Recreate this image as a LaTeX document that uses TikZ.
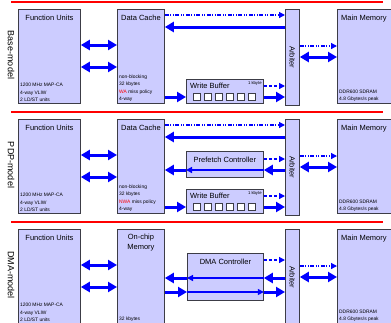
\documentclass[tikz,border=0pt]{standalone}
\usepackage{fontspec}
\setmainfont{Liberation Sans}
\usetikzlibrary{arrows.meta,positioning}
\definecolor{boxfill}{RGB}{204,204,255}
\definecolor{boxline}{RGB}{60,60,70}
\begin{document}
\begin{tikzpicture}[x=1pt,y=-1pt,
  unit/.style={draw=boxline,fill=boxfill,line width=.8pt,anchor=north west,inner sep=0pt},
  ttl/.style={font=\fontsize{7.5}{10}\selectfont,anchor=base,inner sep=1pt},
  spec/.style={font=\fontsize{4.9}{7.3}\selectfont,align=left,anchor=south west,inner sep=2pt},
  side/.style={font=\fontsize{9}{10}\selectfont,rotate=-90},
  big/.style={blue,line width=3pt,-{Triangle[length=9pt,width=10pt]}},
  bigboth/.style={blue,line width=3pt,{Triangle[length=9pt,width=10pt]}-{Triangle[length=9pt,width=10pt]}},
  fine/.style={blue,line width=1.3pt,-{Triangle[length=6pt,width=6pt]}},
  req/.style={fine,dash pattern=on 3pt off 2pt},
  addr/.style={fine,dash pattern=on 4pt off 1.5pt on 1pt off 1.5pt on 1pt off 1.5pt},
  sq/.style={draw=boxline,fill=white,line width=.7pt,minimum size=7.5pt,inner sep=0pt}]
\clip (0,0) rectangle (391,322);
% parts every model has
\foreach \s/\t/\lab in {1/9/Base-model,2/119/PDP-model,3/229/DMA-model}{
  \draw[red,line width=2pt] (11,\t-7)--(383,\t-7);
  \node[unit,minimum width=62pt,minimum height=94pt] (fu\s) at (18,\t) {};
  \node[unit,minimum width=47pt,minimum height=94pt] (mem\s) at (117,\t) {};
  \node[unit,minimum width=14pt,minimum height=96pt] (arb\s) at (285,\t) {};
  \node[unit,minimum width=80pt,minimum height=94pt] (mm\s) at (337,\t) {};
  \node[side] (lab\s) at ([xshift=-7pt,yshift=-46pt]fu\s.north west) {\lab};
  \node[ttl] (fut\s) at ([yshift=-11pt]fu\s.north) {Function Units};
  \node[spec] (fus\s) at (fu\s.south west) {1200 MHz MAP-CA\\4-way VLIW\\2 LD/ST units};
  \node[font=\fontsize{7.5}{8}\selectfont,rotate=-90] (arbt\s) at (arb\s) {Arbiter};
  \node[ttl,anchor=base west] (mmt\s) at ([xshift=3pt,yshift=-11pt]mm\s.north west) {Main Memory};
  \node[spec] (mms\s) at (mm\s.south west) {DDR600 SDRAM\\4.8 Gbytes/s peak};
  \draw[bigboth] ([yshift=-36pt]fu\s.north east) -- ([yshift=-36pt]mem\s.north west);
  \draw[bigboth] ([yshift=-58pt]fu\s.north east) -- ([yshift=-58pt]mem\s.north west);
  \draw[addr] ([yshift=-37pt]arb\s.north east) -- ([yshift=-37pt]mm\s.north west);
  \draw[bigboth] ([yshift=-48pt]arb\s.north east) -- ([yshift=-48pt]mm\s.north west);
}
% data cache and write buffer
\foreach \s/\t/\pol in {1/9/WA,2/119/NWA}{
  \node[ttl] (memt\s) at ([yshift=-11pt]mem\s.north) {Data Cache};
  \node[spec] (mems\s) at (mem\s.south west) {non-blocking\\32 kbytes\\\textcolor{red}{\pol} miss policy\\4-way};
  \draw[addr] ([yshift=-6pt]mem\s.north east) -- ([yshift=-6pt]arb\s.north west);
  \draw[big] ([yshift=-18pt]arb\s.north west) -- ([yshift=-18pt]mem\s.north east);
  \node[unit,minimum width=77pt,minimum height=24pt] (wb\s) at (186,\t+70) {};
  \node[ttl,anchor=base west] (wbt\s) at ([xshift=3pt,yshift=-9pt]wb\s.north west) {Write Buffer};
  \node[spec,anchor=north east,font=\fontsize{4.2}{5}\selectfont] (wbk\s) at (wb\s.north east) {1 kbyte};
  \foreach \i in {1,...,6} \node[sq] (wbq\s\i) at ([xshift=\i*11pt,yshift=7pt]wb\s.south west) {};
  \draw[big] ([yshift=-88pt]mem\s.north east) -- ([yshift=-18pt]wb\s.north west);
  \draw[req] ([yshift=-7pt]wb\s.north east) -- ([yshift=-77pt]arb\s.north west);
  \draw[big] ([yshift=-18pt]wb\s.north east) -- ([yshift=-88pt]arb\s.north west);
}
% prefetch controller
\node[unit,minimum width=77pt,minimum height=26pt] (pf2) at (186,151) {};
\node[ttl] (pft2) at ([yshift=-11pt]pf2.north) {Prefetch Controller};
\draw[req] ([yshift=-8pt]pf2.north east) -- ([yshift=-40pt]arb2.north west);
\draw[big] ([yshift=-51pt]arb2.north west) -- ([yshift=-19pt]pf2.north east);
\draw[fine] ([yshift=-19pt]pf2.north east) -- ([yshift=-19pt]pf2.north west);
\draw[big] ([yshift=-19pt]pf2.north west) -- ([yshift=-51pt]mem2.north east);
% on-chip memory and dma
\node[ttl,anchor=north,align=center] (memt3) at ([yshift=-4pt]mem3.north) {On-chip\\Memory};
\node[spec,anchor=base west] (mems3) at ([yshift=-91pt]mem3.north west) {32 kbytes};
\node[unit,minimum width=76pt,minimum height=47pt] (dma3) at (187,253) {};
\node[ttl] (dmat3) at ([yshift=-11pt]dma3.north) {DMA Controller};
\draw[req] ([yshift=-7pt]dma3.north east) -- ([yshift=-31pt]arb3.north west);
\draw[big] ([yshift=-49pt]arb3.north west) -- ([yshift=-25pt]dma3.north east);
\draw[fine] ([yshift=-25pt]dma3.north east) -- ([yshift=-25pt]dma3.north west);
\draw[big] ([yshift=-25pt]dma3.north west) -- ([yshift=-49pt]mem3.north east);
\draw[big] ([yshift=-63pt]mem3.north east) -- ([yshift=-39pt]dma3.north west);
\draw[fine] ([yshift=-39pt]dma3.north west) -- ([yshift=-39pt]dma3.north east);
\draw[big] ([yshift=-39pt]dma3.north east) -- ([yshift=-63pt]arb3.north west);
\end{tikzpicture}
\end{document}
